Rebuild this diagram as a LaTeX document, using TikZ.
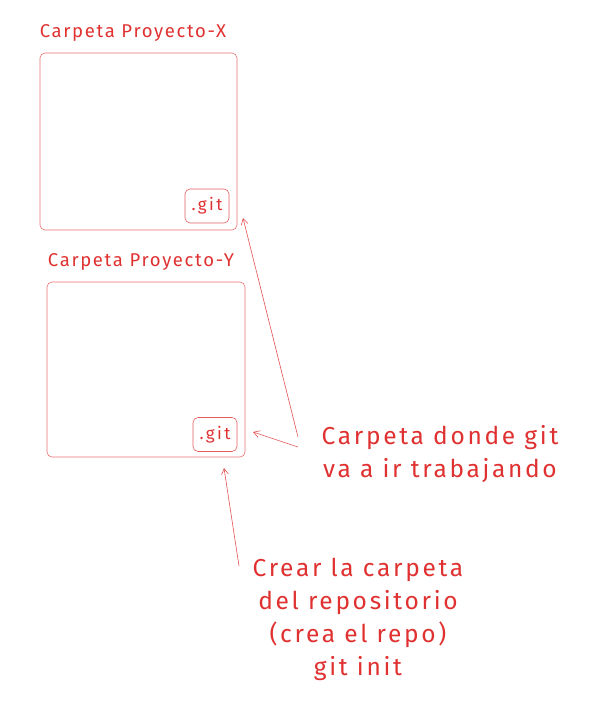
\documentclass[tikz,border=0pt]{standalone}
\usepackage{fontspec}
\setmainfont{Fira Sans}
\usetikzlibrary{arrows.meta}
\definecolor{exred}{HTML}{E03131}
\tikzset{
  folder/.style={draw=exred!70, line width=0.6pt, rounded corners=5pt, inner sep=0pt},
  gitbox/.style={draw=exred!80, line width=0.6pt, rounded corners=5pt, minimum width=44pt, minimum height=34pt, inner sep=0pt, text=exred, font=\fontsize{17}{17}\selectfont\addfontfeature{LetterSpace=14}},
  title/.style={text=exred, font=\fontsize{18.5}{18.5}\selectfont\addfontfeature{LetterSpace=9}, inner sep=0pt},
  note/.style={text=exred, font=\fontsize{24.5}{33}\selectfont\addfontfeature{LetterSpace=11}, align=center, inner sep=0pt},
  pointer/.style={draw=exred!85, line width=0.6pt, -{Straight Barb[length=6pt,width=7pt,line width=0.6pt]}}
}
\begin{document}
\begin{tikzpicture}[x=1pt,y=-1pt]
\useasboundingbox (0,0) rectangle (613,701);
% folder X
\node[title] (tx) at (133,33) {Carpeta Proyecto-X};
\node[folder, minimum width=197pt, minimum height=177pt] (bx) at (138.5,141.5) {};
\node[gitbox] (gx) at (207,206) {.git};
% folder Y
\node[title] (ty) at (141,262) {Carpeta Proyecto-Y};
\node[folder, minimum width=198pt, minimum height=175pt] (by) at (146,369.5) {};
\node[gitbox] (gy) at (215,434.5) {.git};
% notes
\node[note] (n1) at (440,454) {Carpeta donde git\\va a ir trabajando};
\node[note] (n2) at (358,619) {Crear la carpeta\\del repositorio\\(crea el repo)\\git init};
% arrow endpoints
\coordinate (s1) at (298,437);
\coordinate (e1) at (243,218);
\coordinate (s2) at (298,447);
\coordinate (e2) at (253,432);
\coordinate (s3) at (239,566);
\coordinate (e3) at (224,468);
\draw[pointer] (s1) -- (e1);
\draw[pointer] (s2) -- (e2);
\draw[pointer] (s3) -- (e3);
\end{tikzpicture}
\end{document}
